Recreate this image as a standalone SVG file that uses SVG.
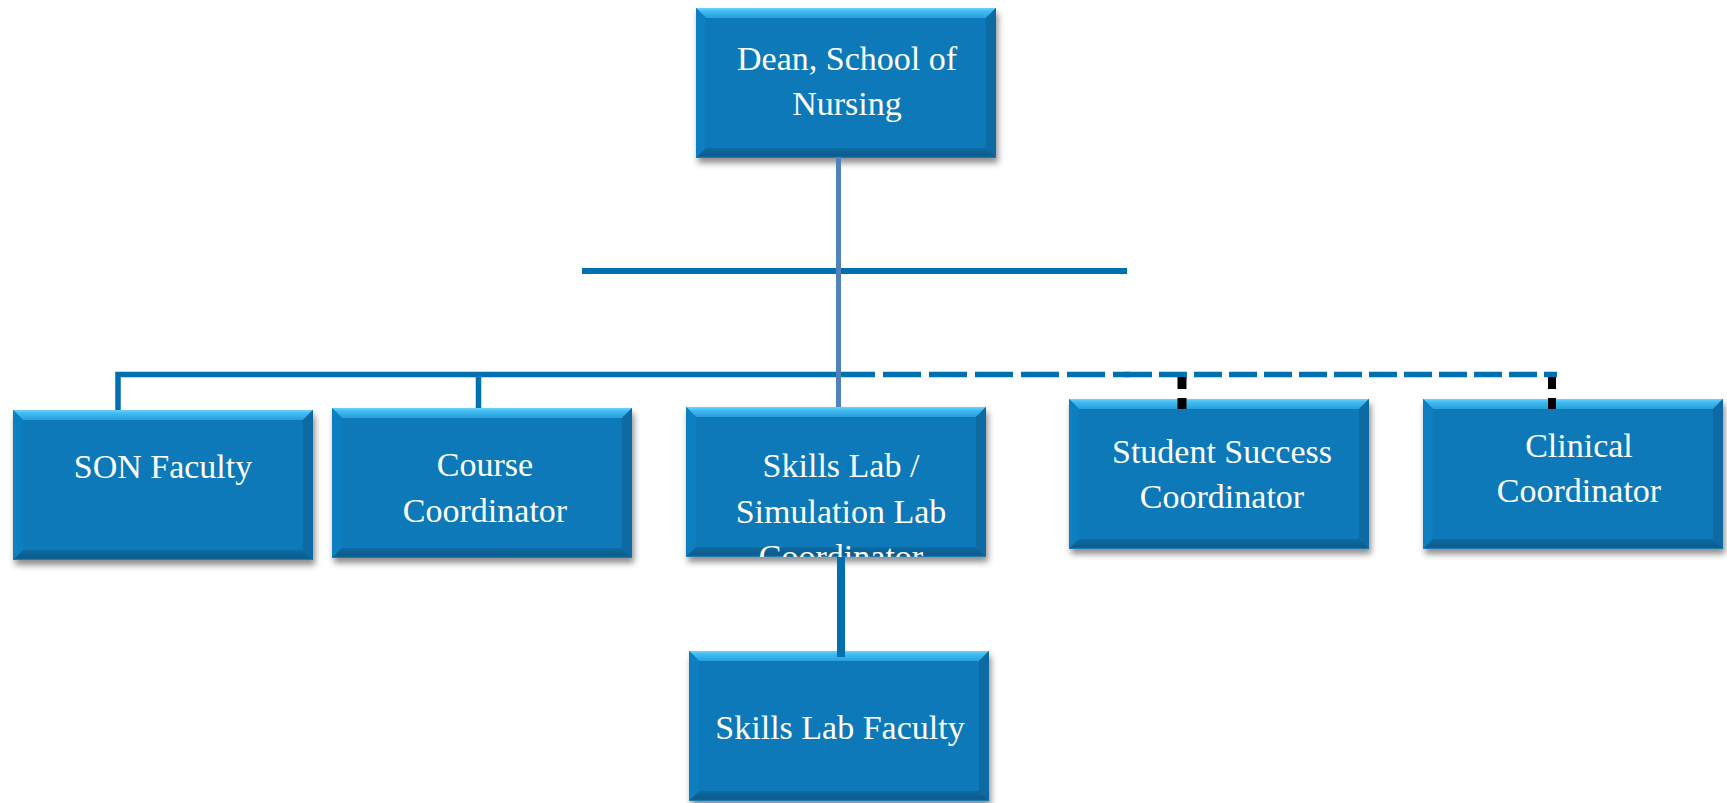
<svg xmlns="http://www.w3.org/2000/svg" xmlns:xlink="http://www.w3.org/1999/xlink" width="1727" height="803" viewBox="0 0 1727 803">
<style>
.lbl{font-family:"Liberation Serif","Times New Roman",serif;font-size:34px;fill:#ffffff;text-anchor:middle}
.ln{stroke:#0070B0;fill:none}
</style>
<defs>
<filter id="sh" x="-10%" y="-10%" width="125%" height="130%">
<feDropShadow dx="2" dy="5" stdDeviation="3" flood-color="#000" flood-opacity="0.45"/>
</filter>
<linearGradient id="gTop" x1="0" y1="0" x2="0" y2="1">
<stop offset="0" stop-color="#6FD2FA"/>
<stop offset="0.3" stop-color="#40BDF4"/>
<stop offset="1" stop-color="#2A9FDC"/>
</linearGradient>
<linearGradient id="gBot" x1="0" y1="0" x2="0" y2="1">
<stop offset="0" stop-color="#0A6BA3"/>
<stop offset="0.8" stop-color="#075A8B"/>
<stop offset="1" stop-color="#2D83B8"/>
</linearGradient>
<g id="box">
<rect width="300" height="150" fill="#0779B8"/>
<polygon points="0,0 300,0 290,10 10,10" fill="url(#gTop)"/>
<polygon points="0,0 10,10 10,140 0,150" fill="#0A7FC0"/>
<polygon points="300,0 300,150 290,140 290,10" fill="#086AA3"/>
<polygon points="0,150 10,140 290,140 300,150" fill="url(#gBot)"/>
</g>
<clipPath id="clipSim"><rect x="686" y="407" width="300" height="150"/></clipPath>
</defs>
<rect width="1727" height="803" fill="#ffffff"/>

<g id="dean">
<use href="#box" x="696" y="8" filter="url(#sh)"/>
<text class="lbl" x="847" y="70">Dean, School of</text>
<text class="lbl" x="847" y="115">Nursing</text>
</g>
<g id="son-faculty">
<use href="#box" x="13" y="410" filter="url(#sh)"/>
<text class="lbl" x="163" y="478">SON Faculty</text>
</g>
<g id="course-coordinator">
<use href="#box" x="332" y="408" filter="url(#sh)"/>
<text class="lbl" x="485" y="476">Course</text>
<text class="lbl" x="485" y="522">Coordinator</text>
</g>
<g id="skills-sim-coordinator">
<use href="#box" x="686" y="407" filter="url(#sh)"/>
<g clip-path="url(#clipSim)">
<text class="lbl" x="841" y="477">Skills Lab /</text>
<text class="lbl" x="841" y="523">Simulation Lab</text>
<text class="lbl" x="841" y="568">Coordinator</text>
</g>
</g>
<g id="student-success">
<use href="#box" x="1069" y="399" filter="url(#sh)"/>
<text class="lbl" x="1222" y="463">Student Success</text>
<text class="lbl" x="1222" y="508">Coordinator</text>
</g>
<g id="clinical-coordinator">
<use href="#box" x="1423" y="399" filter="url(#sh)"/>
<text class="lbl" x="1579" y="457">Clinical</text>
<text class="lbl" x="1579" y="502">Coordinator</text>
</g>
<g id="skills-lab-faculty">
<use href="#box" x="689" y="651" filter="url(#sh)"/>
<text class="lbl" x="840" y="739">Skills Lab Faculty</text>
</g>

<g id="connectors">
<line class="ln" x1="582" y1="271" x2="1127" y2="271" stroke-width="6"/>
<path class="ln" d="M118,410 V374.5 H839" stroke-width="5.5"/>
<line class="ln" x1="478.5" y1="374" x2="478.5" y2="408" stroke-width="5.5"/>
<line class="ln" x1="837" y1="374.5" x2="1130" y2="374.5" stroke-width="5.5" stroke-dasharray="38 8"/>
<line class="ln" x1="1124" y1="374.5" x2="1557" y2="374.5" stroke-width="5.5" stroke-dasharray="28 7"/>
<line x1="838.5" y1="157" x2="838.5" y2="407" stroke="#4F81BD" stroke-width="5"/>
<line class="ln" x1="841" y1="557" x2="841" y2="657" stroke-width="8"/>
<line x1="1182" y1="377" x2="1182" y2="409" stroke="#000" stroke-width="9" stroke-dasharray="12 9"/>
<line x1="1552" y1="377" x2="1552" y2="409" stroke="#000" stroke-width="8" stroke-dasharray="12 9"/>
</g>
</svg>
